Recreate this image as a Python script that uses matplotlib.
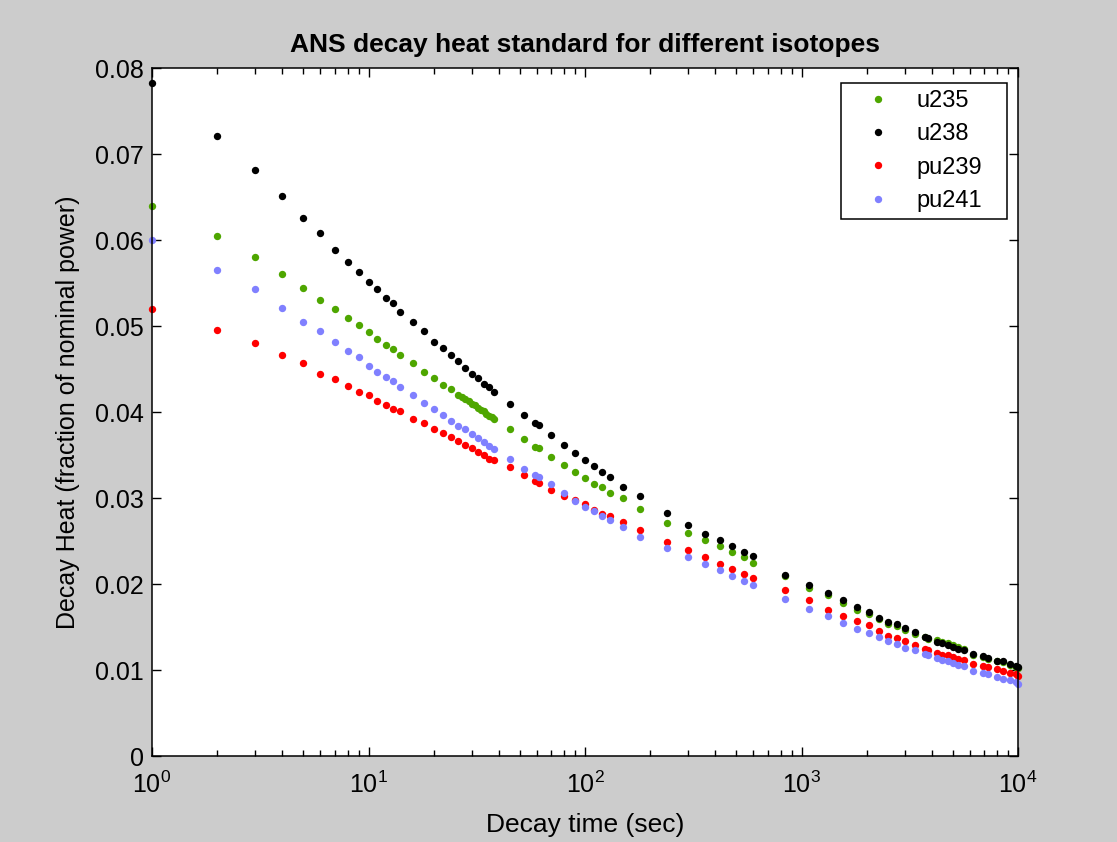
import numpy as np
import matplotlib
matplotlib.use('Agg')
import matplotlib.pyplot as plt
from matplotlib.ticker import FuncFormatter, LogLocator

plt.rcParams['font.family'] = ['Liberation Sans', 'DejaVu Sans']
plt.rcParams['mathtext.default'] = 'regular'

# decay times (s) and decay heat (fraction of nominal power)
time_s = [1, 2, 3, 4, 5, 6, 7, 8, 9, 10, 11, 12, 13, 14,
          16, 18, 20, 22, 24, 26, 28, 30, 32, 34, 36, 38,
          45, 52, 59, 61, 70, 80, 90, 100, 110, 120, 130, 150, 180,
          240, 300, 360, 420, 480, 540, 600,
          840, 1080, 1320, 1560, 1800, 2040, 2280, 2520, 2760, 3000,
          3340, 3720, 3850, 4210, 4440, 4740, 5020, 5300, 5630,
          6220, 6910, 7290, 7970, 8550, 9180, 9760, 10000]

u235 = [0.0640, 0.0605, 0.0580, 0.0561, 0.0545, 0.0531, 0.0520, 0.0510, 0.0501, 0.0493,
        0.0485, 0.0478, 0.0473, 0.0466,
        0.0457, 0.0447, 0.0440, 0.0432, 0.0427, 0.0420, 0.0415, 0.0410, 0.0405, 0.0401, 0.0396, 0.0392,
        0.0381, 0.0369, 0.0360, 0.0358, 0.0348, 0.0338, 0.0331, 0.0324, 0.0317, 0.0313, 0.0306, 0.0300, 0.0287,
        0.0271, 0.0260, 0.0251, 0.0244, 0.0237, 0.0232, 0.0225,
        0.0209, 0.0196, 0.0187, 0.0178, 0.0170, 0.0165, 0.0159, 0.0154, 0.0151, 0.0147,
        0.0142, 0.0138, 0.0136, 0.0135, 0.0133, 0.0131, 0.0129, 0.0127, 0.0125,
        0.0118, 0.0115, 0.0113, 0.0110, 0.0109, 0.0106, 0.0104, 0.0102]

u238 = [0.0783, 0.0721, 0.0682, 0.0652, 0.0626, 0.0608, 0.0589, 0.0575, 0.0563, 0.0552,
        0.0543, 0.0533, 0.0527, 0.0517,
        0.0505, 0.0494, 0.0482, 0.0475, 0.0466, 0.0459, 0.0452, 0.0444, 0.0440, 0.0433, 0.0429, 0.0424,
        0.0410, 0.0397, 0.0388, 0.0385, 0.0373, 0.0362, 0.0353, 0.0344, 0.0337, 0.0330, 0.0325, 0.0313, 0.0302,
        0.0283, 0.0269, 0.0258, 0.0251, 0.0244, 0.0237, 0.0233,
        0.0211, 0.0199, 0.0190, 0.0181, 0.0173, 0.0167, 0.0161, 0.0156, 0.0153, 0.0149,
        0.0144, 0.0139, 0.0137, 0.0133, 0.0131, 0.0129, 0.0127, 0.0125, 0.0123,
        0.0119, 0.0116, 0.0114, 0.0111, 0.0110, 0.0107, 0.0105, 0.0103]

pu239 = [0.0520, 0.0496, 0.0480, 0.0466, 0.0457, 0.0445, 0.0439, 0.0431, 0.0424, 0.0420,
         0.0413, 0.0408, 0.0404, 0.0401,
         0.0392, 0.0388, 0.0381, 0.0376, 0.0371, 0.0366, 0.0362, 0.0358, 0.0354, 0.0350, 0.0346, 0.0344,
         0.0336, 0.0327, 0.0320, 0.0318, 0.0310, 0.0303, 0.0298, 0.0293, 0.0286, 0.0282, 0.0279, 0.0272, 0.0263,
         0.0249, 0.0240, 0.0231, 0.0223, 0.0218, 0.0212, 0.0207,
         0.0193, 0.0181, 0.0170, 0.0163, 0.0157, 0.0152, 0.0145, 0.0140, 0.0137, 0.0134,
         0.0129, 0.0125, 0.0123, 0.0120, 0.0118, 0.0117, 0.0115, 0.0113, 0.0112,
         0.0107, 0.0105, 0.0103, 0.0101, 0.0099, 0.0097, 0.0095, 0.0093]

pu241 = [0.0600, 0.0566, 0.0543, 0.0521, 0.0505, 0.0494, 0.0482, 0.0471, 0.0464, 0.0454,
         0.0447, 0.0441, 0.0436, 0.0429,
         0.0420, 0.0411, 0.0404, 0.0397, 0.0390, 0.0384, 0.0381, 0.0375, 0.0370, 0.0365, 0.0361, 0.0357,
         0.0346, 0.0334, 0.0327, 0.0325, 0.0316, 0.0306, 0.0297, 0.0290, 0.0285, 0.0279, 0.0274, 0.0267, 0.0255,
         0.0242, 0.0232, 0.0223, 0.0216, 0.0209, 0.0204, 0.0199,
         0.0183, 0.0171, 0.0163, 0.0155, 0.0148, 0.0143, 0.0139, 0.0134, 0.0130, 0.0126,
         0.0123, 0.0119, 0.0117, 0.0114, 0.0112, 0.0110, 0.0108, 0.0106, 0.0105,
         0.0099, 0.0096, 0.0095, 0.0092, 0.0090, 0.0088, 0.0086, 0.0084]

# extra u235 points where the green dots run together
u235_extra_t = [27, 29, 31, 33, 35, 37]
u235_extra = [0.0418, 0.0413, 0.0408, 0.0403, 0.0398, 0.0394]

series = [('u235', u235, '#4ea600'),
          ('u238', u238, '#000000'),
          ('pu239', pu239, '#ff0000'),
          ('pu241', pu241, '#8080ff')]

W, H = 1117, 842
fig = plt.figure(figsize=(W / 100, H / 100), dpi=100, facecolor='#cccccc')
ax = fig.add_axes([152 / W, 1 - 756 / H, (1018 - 152) / W, (756 - 68.4) / H])
ax.set_facecolor('white')

for name, vals, col in series:
    ax.plot(time_s, vals, 'o', ms=5.3, mew=0, color=col, label=name, clip_on=False)
    if name == 'u235':
        ax.plot(u235_extra_t, u235_extra, 'o', ms=5.3, mew=0, color=col, clip_on=False)

ax.set_xscale('log')
ax.set_xlim(1, 1e4)
ax.set_ylim(0, 0.08)
ax.set_yticks(np.arange(0, 0.081, 0.01))
ax.yaxis.set_major_formatter(FuncFormatter(lambda v, p: '%g' % round(v, 3)))
ax.xaxis.set_minor_locator(LogLocator(base=10, subs=np.arange(2, 10), numticks=20))

ax.tick_params(which='both', direction='in', top=True, right=True, labelsize=18, width=1)
ax.tick_params(which='major', length=6.5)
ax.tick_params(which='minor', length=4)
ax.tick_params(axis='y', which='major', pad=6)
ax.tick_params(axis='x', which='major', pad=11)
for s in ax.spines.values():
    s.set_linewidth(1.1)

ax.set_title('ANS decay heat standard for different isotopes', fontsize=19, fontweight='bold', pad=12)
ax.set_xlabel('Decay time (sec)', fontsize=19, labelpad=11)
ax.set_ylabel('Decay Heat (fraction of nominal power)', fontsize=18, labelpad=11)

leg = ax.legend(loc='upper left', bbox_to_anchor=(841 / W, 1 - 222 / H, 166 / W, 139 / H),
                bbox_transform=fig.transFigure, mode='expand',
                borderaxespad=0, fontsize=17, frameon=True, fancybox=False, framealpha=1,
                edgecolor='black', numpoints=1, handlelength=2.5, handletextpad=0.4,
                borderpad=0.3, labelspacing=0.48, markerscale=1.0)
leg.get_frame().set_linewidth(1.1)

fig.savefig('out.png', dpi=100, facecolor=fig.get_facecolor())
